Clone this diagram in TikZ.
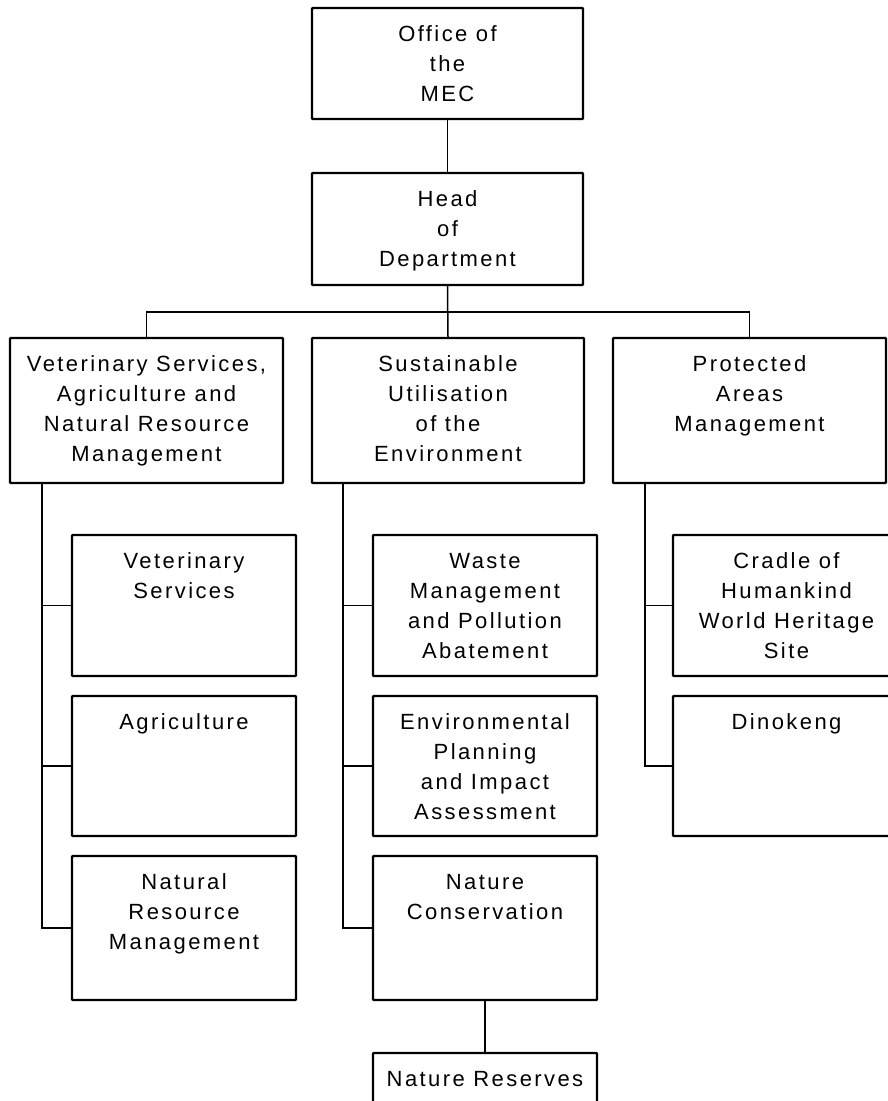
\documentclass[tikz,border=0pt]{standalone}
\usepackage{fontspec}
\setmainfont{Liberation Sans}[LetterSpace=11]
\newcommand\topstrut{\rule{0pt}{17pt}}
\tikzset{
  box/.style={draw=black, line width=2.4pt, inner sep=0pt, rounded corners=0.8pt},
  txt/.style={font=\fontsize{22pt}{30pt}\selectfont, align=center, inner sep=0pt, anchor=north},
  link/.style={draw=black, line width=1.5pt}
}
\begin{document}
\begin{tikzpicture}[x=1pt, y=-1pt]
\useasboundingbox (0,0) rectangle (888,1101);
% boxes: (left,top) to (right,bottom)
\newcommand\mkbox[5]{%
  \node[box, minimum width={#4-#2}, minimum height={#5-#3}] (#1) at ({(#2+#4)/2},{(#3+#5)/2}) {};}
\mkbox{mec}{312}{8}{583}{119}
\mkbox{hod}{312}{173}{583}{285}
\mkbox{vsa}{10}{338}{283}{483}
\mkbox{sue}{312}{338}{584}{483}
\mkbox{pam}{613}{338}{886}{483}
\mkbox{vs}{72}{535}{296}{676}
\mkbox{agr}{72}{696}{296}{836}
\mkbox{nrm}{72}{856}{296}{1000}
\mkbox{wm}{373}{535}{597}{676}
\mkbox{ep}{373}{696}{597}{836}
\mkbox{nc}{373}{856}{597}{1000}
\mkbox{nr}{373}{1053}{597}{1112}
\mkbox{cr}{673}{535}{894}{676}
\mkbox{din}{673}{696}{894}{836}

% texts
\node[txt] at ([yshift=-17pt]mec.north) {\topstrut Office of\\the\\MEC};
\node[txt] at ([yshift=-17pt]hod.north) {\topstrut Head\\of\\Department};
\node[txt] at ([yshift=-17pt]vsa.north) {\topstrut Veterinary Services,\\Agriculture and\\Natural Resource\\Management};
\node[txt] at ([yshift=-17pt]sue.north) {\topstrut Sustainable\\Utilisation\\of the\\Environment};
\node[txt] at ([yshift=-17pt]pam.north) {\topstrut Protected\\Areas\\Management};
\node[txt] at ([yshift=-17pt]vs.north) {\topstrut Veterinary\\Services};
\node[txt] at ([yshift=-17pt]agr.north) {\topstrut Agriculture};
\node[txt] at ([yshift=-17pt]nrm.north) {\topstrut Natural\\Resource\\Management};
\node[txt] at ([yshift=-17pt]wm.north) {\topstrut Waste\\Management\\and Pollution\\Abatement};
\node[txt] at ([yshift=-17pt]ep.north) {\topstrut Environmental\\Planning\\and Impact\\Assessment};
\node[txt] at ([yshift=-17pt]nc.north) {\topstrut Nature\\Conservation};
\node[txt] at ([yshift=-17pt]nr.north) {\topstrut Nature Reserves};
\node[txt] at ([xshift=3pt,yshift=-17pt]cr.north) {\topstrut Cradle of\\Humankind\\World Heritage\\Site};
\node[txt] at ([xshift=3pt,yshift=-17pt]din.north) {\topstrut Dinokeng};

% connectors
\coordinate (bus) at (448,312);
\draw[link] (mec.south) -- (hod.north);
\draw[link] (hod.south) -- (sue.north);
\draw[link] (vsa.north) |- (bus) -| (pam.north);

\coordinate (c1) at (42,483);
\coordinate (c2) at (343,483);
\coordinate (c3) at (645,483);
\draw[link] (c1) |- (nrm.west);
\draw[link] (c1 |- vs.west) -- (vs.west);
\draw[link] (c1 |- agr.west) -- (agr.west);
\draw[link] (c2) |- (nc.west);
\draw[link] (c2 |- wm.west) -- (wm.west);
\draw[link] (c2 |- ep.west) -- (ep.west);
\draw[link] (c3) |- (din.west);
\draw[link] (c3 |- cr.west) -- (cr.west);
\draw[link] (nc.south) -- (nr.north);
\end{tikzpicture}
\end{document}
